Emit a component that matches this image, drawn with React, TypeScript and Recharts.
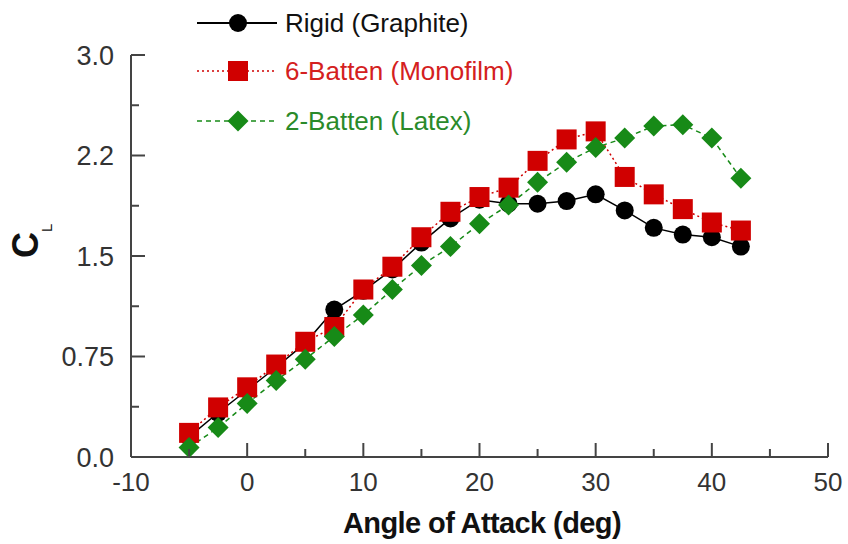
import React from 'react';
import { LineChart, Line, XAxis, YAxis, Label } from 'recharts';

const aoa = [-5, -2.5, 0, 2.5, 5, 7.5, 10, 12.5, 15, 17.5, 20, 22.5, 25, 27.5, 30, 32.5, 35, 37.5, 40, 42.5];
const rigid = [0.15, 0.33, 0.5, 0.67, 0.85, 1.1, 1.24, 1.4, 1.6, 1.78, 1.92, 1.89, 1.89, 1.91, 1.96, 1.84, 1.71, 1.66, 1.64, 1.57];
const sixBatten = [0.18, 0.37, 0.52, 0.69, 0.86, 0.97, 1.25, 1.42, 1.64, 1.83, 1.94, 2.01, 2.21, 2.37, 2.43, 2.09, 1.96, 1.85, 1.75, 1.69];
const twoBatten = [0.07, 0.22, 0.4, 0.57, 0.73, 0.9, 1.06, 1.25, 1.43, 1.57, 1.74, 1.88, 2.05, 2.2, 2.31, 2.38, 2.47, 2.48, 2.38, 2.08];

const xTicks = [-10, -5, 0, 5, 10, 15, 20, 25, 30, 35, 40, 45, 50];
const xMajor = [-10, 0, 10, 20, 30, 40, 50];
const yTicks = [0, 0.375, 0.75, 1.125, 1.5, 1.875, 2.25, 2.625, 3];
const yMajor = [0, 0.75, 1.5, 2.25, 3];
const yMajorLabels = ['0.0', '0.75', '1.5', '2.2', '3.0'];

const seriesNames = ['Rigid (Graphite)', '6-Batten (Monofilm)', '2-Batten (Latex)'];
const seriesColors = ['#000000', '#d00000', '#178a17'];
const textColors = ['#111111', '#d42020', '#2a8a2a'];
const dashes = ['', '2 3', '5 4'];

const data = aoa.map((a, i) => ({ aoa: a, rigid: rigid[i], six: sixBatten[i], two: twoBatten[i] }));

const FONT = '"Liberation Sans", Arial, sans-serif';
const AXIS = '#444444';

function Marker({ kind, cx, cy }: { kind: number; cx: number; cy: number }) {
  if (kind === 0) return <circle cx={cx} cy={cy} r={9} fill={seriesColors[0]} />;
  if (kind === 1) return <rect x={cx - 10} y={cy - 10} width={20} height={20} fill={seriesColors[1]} />;
  const h = 10.5;
  return <polygon points={`${cx},${cy - h} ${cx + h},${cy} ${cx},${cy + h} ${cx - h},${cy}`} fill={seriesColors[2]} />;
}

const makeDot = (kind: number) => (props: any) => {
  const { cx, cy, index } = props;
  if (cx == null || cy == null) return <g key={`d${kind}-${index}`} />;
  return (
    <g key={`d${kind}-${index}`}>
      <Marker kind={kind} cx={cx} cy={cy} />
    </g>
  );
};

const XTick = (props: any) => {
  const { x, y, payload } = props;
  const v = payload.value;
  const major = xMajor.includes(v);
  return (
    <g>
      <line x1={x} y1={y} x2={x} y2={y - (major ? 14 : 8)} stroke={AXIS} strokeWidth={2} />
      {major && (
        <text x={x} y={y + 34} textAnchor="middle" fontFamily={FONT} fontSize={26} fill="#333">
          {String(v)}
        </text>
      )}
    </g>
  );
};

const YTick = (props: any) => {
  const { x, y, payload } = props;
  const v = payload.value;
  const idx = yMajor.indexOf(v);
  const major = idx >= 0;
  return (
    <g>
      <line x1={x} y1={y} x2={x + (major ? 14 : 8)} y2={y} stroke={AXIS} strokeWidth={2} />
      {major && (
        <text x={x - 17} y={y} dy="0.36em" textAnchor="end" fontFamily={FONT} fontSize={27} fill="#333">
          {yMajorLabels[idx]}
        </text>
      )}
    </g>
  );
};

const LegendBox = () => {
  const rows = [23, 71, 121];
  return (
    <svg width={560} height={150} style={{ position: 'absolute', left: 0, top: 0 }}>
      {seriesNames.map((n, i) => (
        <g key={n}>
          <line x1={197} y1={rows[i]} x2={277} y2={rows[i]} stroke={seriesColors[i]} strokeWidth={i === 0 ? 2 : 1.5} strokeDasharray={dashes[i] || undefined} />
          <Marker kind={i} cx={238} cy={rows[i]} />
          <text x={285} y={rows[i]} dy="0.36em" fontFamily={FONT} fontSize={26} fill={textColors[i]}>
            {n}
          </text>
        </g>
      ))}
    </svg>
  );
};

export default function App() {
  return (
    <div style={{ position: 'absolute', left: 0, top: 0, width: 848, height: 544, background: '#fff' }}>
      <LineChart width={848} height={544} data={data} margin={{ top: 55, right: 20, bottom: 86, left: 130 }}>
        <XAxis
          dataKey="aoa"
          type="number"
          domain={[-10, 50]}
          ticks={xTicks}
          interval={0}
          height={1}
          tickSize={0}
          tickMargin={0}
          tick={<XTick />}
          tickLine={false}
          axisLine={{ stroke: AXIS, strokeWidth: 2 }}
          allowDataOverflow
        >
          <Label
            content={() => (
              <text x={482} y={533} textAnchor="middle" fontFamily={FONT} fontWeight="bold" fontSize={29} letterSpacing={-0.6} fill="#111">
                Angle of Attack (deg)
              </text>
            )}
          />
        </XAxis>
        <YAxis
          type="number"
          domain={[0, 3]}
          ticks={yTicks}
          interval={0}
          width={1}
          tickSize={0}
          tickMargin={0}
          tick={<YTick />}
          tickLine={false}
          axisLine={{ stroke: AXIS, strokeWidth: 2 }}
          allowDataOverflow
        >
          <Label
            content={() => (
              <g transform="rotate(-90 38 258)">
                <text x={38} y={258} fontFamily={FONT} fontWeight="bold" fontSize={36} fill="#111">
                  C
                  <tspan fontSize={15} fontWeight="normal" dy={14}>L</tspan>
                </text>
              </g>
            )}
          />
        </YAxis>
        <Line dataKey="rigid" stroke={seriesColors[0]} strokeWidth={1.5} dot={makeDot(0)} activeDot={false} isAnimationActive={false} />
        <Line dataKey="six" stroke={seriesColors[1]} strokeWidth={1.5} strokeDasharray={dashes[1]} dot={makeDot(1)} activeDot={false} isAnimationActive={false} />
        <Line dataKey="two" stroke={seriesColors[2]} strokeWidth={1.5} strokeDasharray={dashes[2]} dot={makeDot(2)} activeDot={false} isAnimationActive={false} />
      </LineChart>
      <LegendBox />
    </div>
  );
}
